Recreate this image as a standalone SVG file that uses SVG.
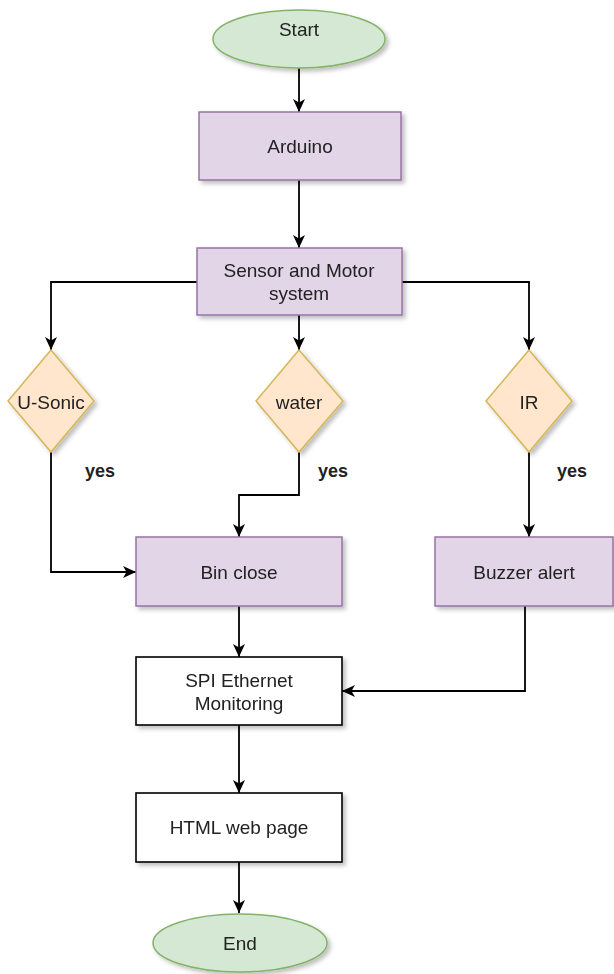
<svg xmlns="http://www.w3.org/2000/svg" width="614" height="974" viewBox="0 0 614 974">
<style>
text{font-family:"Liberation Sans",Arial,sans-serif;font-size:19px;fill:#222;text-anchor:middle}
.yes{font-weight:bold;font-size:18px}
.term{fill:#d5e8d4;stroke:#82b366;stroke-width:1.5}
.proc{fill:#e1d5e7;stroke:#9673a6;stroke-width:1.5}
.dec{fill:#ffe6cc;stroke:#d6b656;stroke-width:1.5}
.box{fill:#fff;stroke:#000;stroke-width:1.6}
.edge{fill:none;stroke:#000;stroke-width:1.8;marker-end:url(#arr)}
</style>
<defs>
<filter id="sh" x="-10%" y="-10%" width="130%" height="140%">
<feDropShadow dx="3" dy="3" stdDeviation="2" flood-color="#000" flood-opacity="0.25"/>
</filter>
<marker id="arr" markerUnits="userSpaceOnUse" markerWidth="14" markerHeight="14" viewBox="0 0 14 14" refX="13" refY="7" orient="auto">
<path d="M0,1 L13,7 L0,13 L3.5,7 z" fill="#000"/>
</marker>
</defs>
<rect width="614" height="974" fill="#fff"/>
<g id="connectors">
<path class="edge" d="M299,68 V112"/>
<path class="edge" d="M299,180 V248"/>
<path class="edge" d="M197,282 H51 V350"/>
<path class="edge" d="M299,315 V350"/>
<path class="edge" d="M402,282 H529 V350"/>
<path class="edge" d="M51,452 V572 H136"/>
<path class="edge" d="M299,452 V495 H239 V537"/>
<path class="edge" d="M529,452 V537"/>
<path class="edge" d="M239,606 V657"/>
<path class="edge" d="M525,606 V691 H342"/>
<path class="edge" d="M239,725 V793"/>
<path class="edge" d="M239,862 V913"/>
</g>
<g id="start" filter="url(#sh)"><ellipse class="term" cx="299" cy="39" rx="86" ry="29"/><text x="299" y="36">Start</text></g>
<g id="arduino" filter="url(#sh)"><rect class="proc" x="199" y="112" width="202" height="68"/><text x="300" y="153">Arduino</text></g>
<g id="sensor" filter="url(#sh)"><rect class="proc" x="197" y="248" width="205" height="67"/><text x="299" y="277">Sensor and Motor</text><text x="299" y="300">system</text></g>
<g id="usonic" filter="url(#sh)"><polygon class="dec" points="51,350 94,401 51,452 8,401"/><text x="51" y="409">U-Sonic</text></g>
<g id="water" filter="url(#sh)"><polygon class="dec" points="299,350 343,401 299,452 256,401"/><text x="299" y="409">water</text></g>
<g id="ir" filter="url(#sh)"><polygon class="dec" points="529,350 572,401 529,452 486,401"/><text x="529" y="409">IR</text></g>
<text class="yes" x="100" y="477">yes</text>
<text class="yes" x="333" y="477">yes</text>
<text class="yes" x="572" y="477">yes</text>
<g id="binclose" filter="url(#sh)"><rect class="proc" x="136" y="537" width="206" height="69"/><text x="239" y="579">Bin close</text></g>
<g id="buzzer" filter="url(#sh)"><rect class="proc" x="435" y="537" width="178" height="69"/><text x="524" y="579">Buzzer alert</text></g>
<g id="spi" filter="url(#sh)"><rect class="box" x="136" y="657" width="206" height="68"/><text x="239" y="687">SPI Ethernet</text><text x="239" y="710">Monitoring</text></g>
<g id="html" filter="url(#sh)"><rect class="box" x="136" y="793" width="206" height="69"/><text x="239" y="834">HTML web page</text></g>
<g id="end" filter="url(#sh)"><ellipse class="term" cx="240" cy="943" rx="87" ry="29"/><text x="240" y="950">End</text></g>
</svg>
